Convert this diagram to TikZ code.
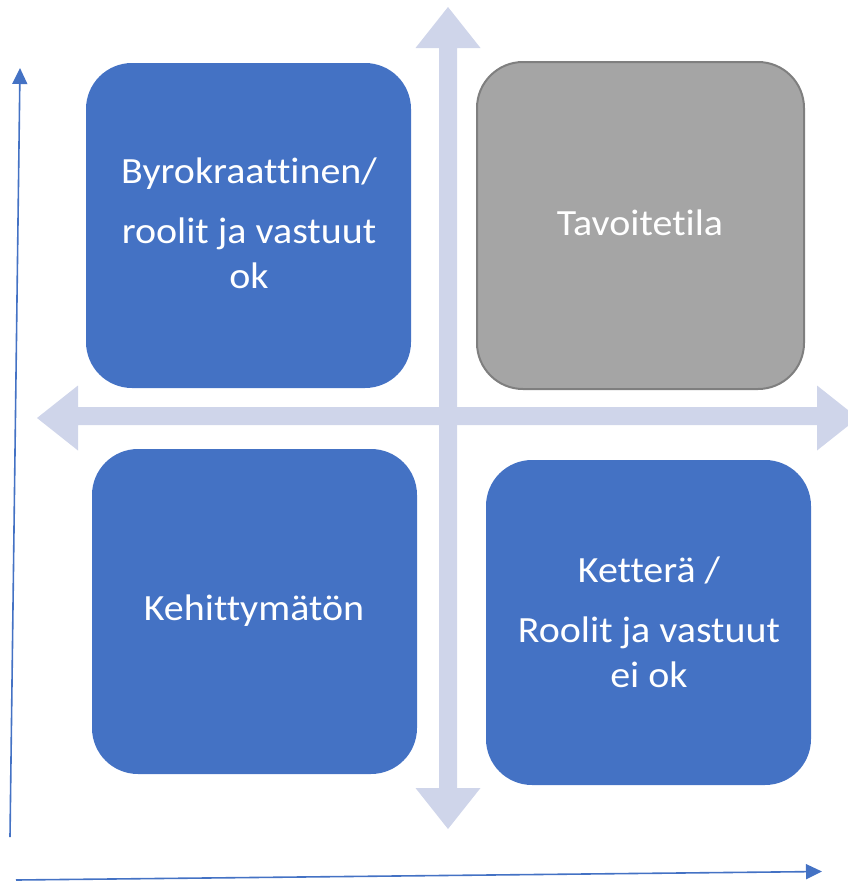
\documentclass[tikz,border=0pt]{standalone}
\usepackage{fontspec}
\setmainfont[FakeStretch=1.08,Ligatures={NoCommon}]{Carlito}
\usetikzlibrary{arrows.meta}
\definecolor{boxblue}{HTML}{4472C4}
\definecolor{boxgray}{HTML}{A5A5A5}
\definecolor{graydark}{HTML}{7F7F7F}
\definecolor{crosscol}{HTML}{CFD5EA}
\tikzset{
  quad/.style={rectangle, rounded corners=46pt, minimum width=325pt, minimum height=325pt, inner sep=0pt, fill=boxblue, draw=none},
  quadgray/.style={quad, fill=boxgray, draw=graydark, line width=2pt, minimum width=327pt, minimum height=327pt},
  lbl/.style={anchor=base, text=white, inner sep=0pt, font=\fontsize{37}{44}\selectfont},
  axis/.style={draw=boxblue, line width=1.6pt, -{Triangle[length=16pt,width=15pt]}},
}
\begin{document}
\begin{tikzpicture}[x=1pt,y=-1pt]
\useasboundingbox (0,0) rectangle (848,881);
\clip (0,0) rectangle (848,881);
% quadrant boxes
\node[quad] (tl) at (248.5,225.5) {};
\node[quadgray] (tr) at (640.5,225.5) {};
\node[quad] (bl) at (254.5,611.5) {};
\node[quad] (br) at (648.5,622.5) {};
% light cross arrows
\fill[crosscol] (448,7) -- (480.5,48) -- (457,48) -- (457,788) -- (480.5,788) -- (448,829) -- (415.5,788) -- (439,788) -- (439,48) -- (415.5,48) -- cycle;
\fill[crosscol] (37,418) -- (78,385.5) -- (78,407) -- (817,407) -- (817,385.5) -- (858,418) -- (817,450.5) -- (817,425) -- (78,425) -- (78,450.5) -- cycle;
% texts
\node[lbl] (t1a) at (249,183) {Byrokraattinen/};
\node[lbl] (t1b) at (249,243) {roolit ja vastuut};
\node[lbl] (t1c) at (249,288) {ok};
\node[lbl] (t2) at (640,235) {Tavoitetila};
\node[lbl] (t3) at (254,620) {Kehittymätön};
\node[lbl] (t4a) at (649,582) {Ketterä /};
\node[lbl] (t4b) at (649,642) {Roolit ja vastuut};
\node[lbl] (t4c) at (649,687) {ei ok};
% axes
\coordinate (yo) at (10,837);
\coordinate (yt) at (20,68);
\coordinate (xo) at (16,880);
\coordinate (xt) at (822,871.5);
\draw[axis] (yo) -- (yt);
\draw[axis] (xo) -- (xt);
\end{tikzpicture}
\end{document}
